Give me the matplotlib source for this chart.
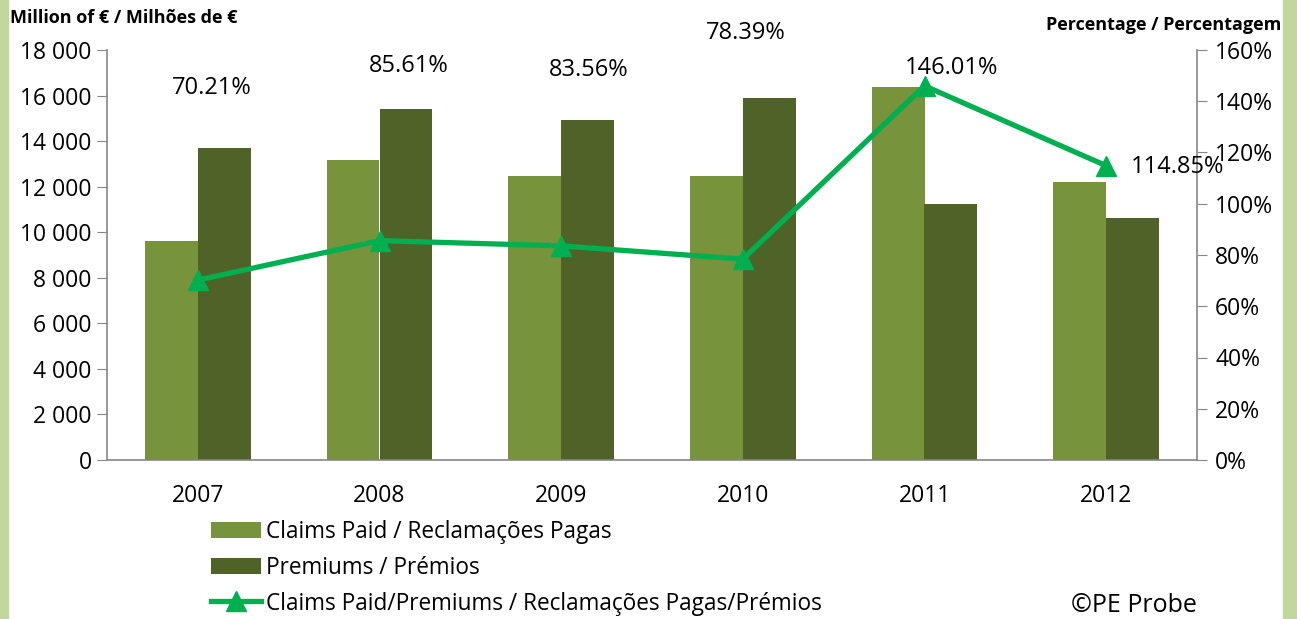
import numpy as np
import matplotlib.pyplot as plt
from matplotlib.patches import Rectangle
from matplotlib.ticker import FuncFormatter

plt.rcParams['font.family'] = ['Open Sans', 'DejaVu Sans']

years = ['2007', '2008', '2009', '2010', '2011', '2012']
claims = [9610, 13170, 12480, 12470, 16390, 12200]
premiums = [13690, 15390, 14930, 15910, 11230, 10620]
ratio = [70.21, 85.61, 83.56, 78.39, 146.01, 114.85]
ratio_labels = ['70.21%', '85.61%', '83.56%', '78.39%', '146.01%', '114.85%']
# label offsets in pixels from each point
label_off = [(14, 192), (29, 175), (28, 176), (3, 226), (27, 18), (71, -1)]

GREEN_LIGHT = '#77933c'
GREEN_DARK = '#4f6228'
LINE_GREEN = '#00b050'
SPINE = '#868686'

fig = plt.figure(figsize=(12.97, 6.19), dpi=100)
fig.patches.append(Rectangle((0, 0), 8 / 1297, 1, transform=fig.transFigure,
                             color='#c3d69b', zorder=0))
fig.patches.append(Rectangle((1 - 14 / 1297, 0), 14 / 1297, 1,
                             transform=fig.transFigure, color='#c3d69b', zorder=0))

ax = fig.add_axes([107 / 1297, 1 - 460 / 619, 1090 / 1297, 410 / 619])
x = np.arange(len(years))
w = 0.29
ax.bar(x - w / 2, claims, w, color=GREEN_LIGHT, label='Claims Paid / Reclamações Pagas')
ax.bar(x + w / 2, premiums, w, color=GREEN_DARK, label='Premiums / Prémios')
ax.set_xlim(-0.5, len(years) - 0.5)
ax.set_ylim(0, 18000)
ax.set_yticks(range(0, 18001, 2000))
ax.yaxis.set_major_formatter(FuncFormatter(lambda v, p: f'{int(v):,}'.replace(',', ' ')))
ax.set_xticks(x)
ax.set_xticklabels(years)
ax.tick_params(axis='x', length=0, labelsize=16.5, pad=17)
ax.tick_params(axis='y', length=7, color=SPINE, labelsize=16.5, pad=4)
for s in ['top', 'right']:
    ax.spines[s].set_visible(False)
for s in ['left', 'bottom']:
    ax.spines[s].set_color(SPINE)
    ax.spines[s].set_linewidth(1.2)

ax2 = ax.twinx()
line, = ax2.plot(x, ratio, color=LINE_GREEN, lw=3.8, marker='^', ms=14,
                 label='Claims Paid/Premiums / Reclamações Pagas/Prémios')
ax2.set_ylim(0, 160)
ax2.set_yticks(range(0, 161, 20))
ax2.yaxis.set_major_formatter(FuncFormatter(lambda v, p: f'{int(v)}%'))
ax2.tick_params(axis='y', length=7, color=SPINE, labelsize=16.5, pad=6)
for s in ['top', 'left', 'bottom']:
    ax2.spines[s].set_visible(False)
ax2.spines['right'].set_color(SPINE)
ax2.spines['right'].set_linewidth(1.2)

for xi, yi, txt, off in zip(x, ratio, ratio_labels, label_off):
    ax2.annotate(txt, (xi, yi), xytext=off, textcoords='offset pixels',
                 ha='center', va='center', fontsize=17)

fig.text(10 / 1297, 1 - 18 / 619, 'Million of € / Milhões de €', fontsize=13,
         fontweight='bold', ha='left', va='center')
fig.text(1281 / 1297, 1 - 25 / 619, 'Percentage / Percentagem', fontsize=13,
         fontweight='bold', ha='right', va='center')
fig.text(1134 / 1297, 1 - 606 / 619, '©PE Probe', fontsize=18, ha='center', va='center')

handles = ax.get_legend_handles_labels()[0] + [line]
fig.legend(handles=handles, labels=[h.get_label() for h in handles],
           loc='upper left', bbox_to_anchor=(211 / 1297, 1 - 520 / 619),
           frameon=False, fontsize=16.3, handlelength=2.2, handleheight=0.75,
           handletextpad=0.25, labelspacing=0.52, borderaxespad=0, borderpad=0)

fig.savefig('out.png', dpi=100)
